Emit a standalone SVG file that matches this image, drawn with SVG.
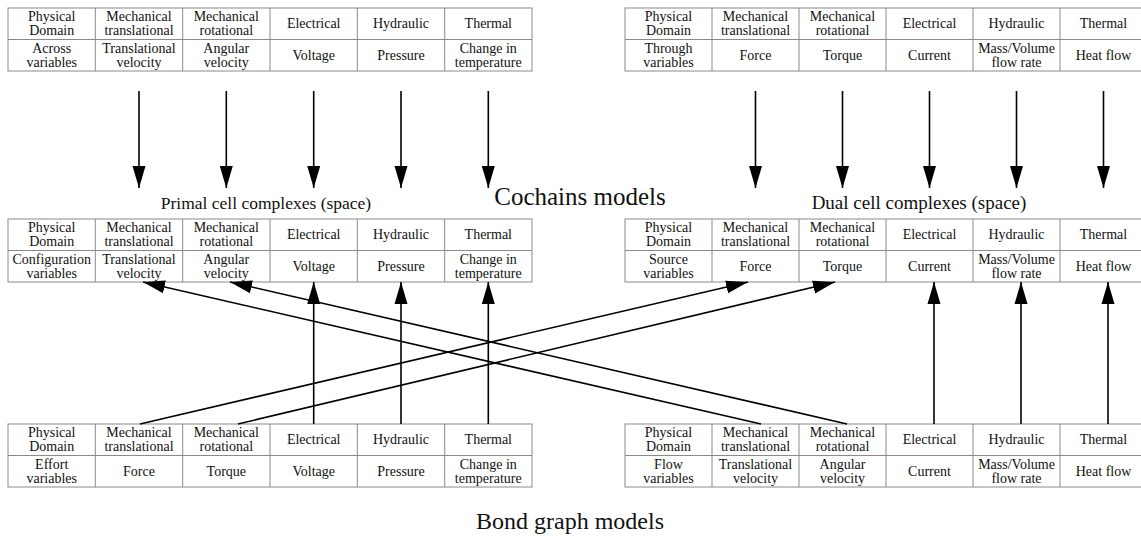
<svg xmlns="http://www.w3.org/2000/svg" width="1141" height="537" viewBox="0 0 1141 537">
  <defs>
    <marker id="head" markerUnits="userSpaceOnUse" markerWidth="22" markerHeight="14" refX="22" refY="7" orient="auto">
      <path d="M0,0.5 L22,7 L0,13.5 Z" fill="#000"/>
    </marker>
    <style>
      .grid { fill: #fff; stroke: #8a8a8a; stroke-width: 1; }
      .cell { font-family: "Liberation Serif", "Times New Roman", serif; font-size: 14px; fill: #111; text-anchor: middle; }
      .caption { font-family: "Liberation Serif", "Times New Roman", serif; font-size: 17.5px; fill: #111; text-anchor: middle; }
      .caption-dual { font-size: 19px; }
      .title { font-family: "Liberation Serif", "Times New Roman", serif; font-size: 25px; fill: #111; text-anchor: middle; }
      .title-bond { font-size: 24px; }
      .arrow { stroke: #000; stroke-width: 1.6; fill: none; marker-end: url(#head); }
    </style>
  </defs>
  <rect width="1141" height="537" fill="#fff"/>

  <!-- Across variables (top left) -->
  <g id="across-table" transform="translate(8,8)">
    <rect class="grid" x="0" y="0" width="524" height="63"/>
    <path class="grid" d="M0,31.5H524 M87.3,0V63 M174.7,0V63 M262,0V63 M349.3,0V63 M436.7,0V63"/>
    <text class="cell"><tspan x="43.7" y="13.2">Physical</tspan><tspan x="43.7" y="27.2">Domain</tspan></text>
    <text class="cell"><tspan x="131" y="13.2">Mechanical</tspan><tspan x="131" y="27.2">translational</tspan></text>
    <text class="cell"><tspan x="218.3" y="13.2">Mechanical</tspan><tspan x="218.3" y="27.2">rotational</tspan></text>
    <text class="cell" x="305.7" y="20.2">Electrical</text>
    <text class="cell" x="393" y="20.2">Hydraulic</text>
    <text class="cell" x="480.3" y="20.2">Thermal</text>
    <text class="cell"><tspan x="43.7" y="44.7">Across</tspan><tspan x="43.7" y="58.7">variables</tspan></text>
    <text class="cell"><tspan x="131" y="44.7">Translational</tspan><tspan x="131" y="58.7">velocity</tspan></text>
    <text class="cell"><tspan x="218.3" y="44.7">Angular</tspan><tspan x="218.3" y="58.7">velocity</tspan></text>
    <text class="cell" x="305.7" y="51.7">Voltage</text>
    <text class="cell" x="393" y="51.7">Pressure</text>
    <text class="cell"><tspan x="480.3" y="44.7">Change in</tspan><tspan x="480.3" y="58.7">temperature</tspan></text>
  </g>

  <!-- Through variables (top right) -->
  <g id="through-table" transform="translate(625,8)">
    <rect class="grid" x="0" y="0" width="522" height="63"/>
    <path class="grid" d="M0,31.5H522 M87,0V63 M174,0V63 M261,0V63 M348,0V63 M435,0V63"/>
    <text class="cell"><tspan x="43.5" y="13.2">Physical</tspan><tspan x="43.5" y="27.2">Domain</tspan></text>
    <text class="cell"><tspan x="130.5" y="13.2">Mechanical</tspan><tspan x="130.5" y="27.2">translational</tspan></text>
    <text class="cell"><tspan x="217.5" y="13.2">Mechanical</tspan><tspan x="217.5" y="27.2">rotational</tspan></text>
    <text class="cell" x="304.5" y="20.2">Electrical</text>
    <text class="cell" x="391.5" y="20.2">Hydraulic</text>
    <text class="cell" x="478.5" y="20.2">Thermal</text>
    <text class="cell"><tspan x="43.5" y="44.7">Through</tspan><tspan x="43.5" y="58.7">variables</tspan></text>
    <text class="cell" x="130.5" y="51.7">Force</text>
    <text class="cell" x="217.5" y="51.7">Torque</text>
    <text class="cell" x="304.5" y="51.7">Current</text>
    <text class="cell"><tspan x="391.5" y="44.7">Mass/Volume</tspan><tspan x="391.5" y="58.7">flow rate</tspan></text>
    <text class="cell" x="478.5" y="51.7">Heat flow</text>
  </g>

  <!-- Configuration variables (primal cells) -->
  <g id="configuration-table" transform="translate(8,219)">
    <rect class="grid" x="0" y="0" width="524" height="63"/>
    <path class="grid" d="M0,31.5H524 M87.3,0V63 M174.7,0V63 M262,0V63 M349.3,0V63 M436.7,0V63"/>
    <text class="cell"><tspan x="43.7" y="13.2">Physical</tspan><tspan x="43.7" y="27.2">Domain</tspan></text>
    <text class="cell"><tspan x="131" y="13.2">Mechanical</tspan><tspan x="131" y="27.2">translational</tspan></text>
    <text class="cell"><tspan x="218.3" y="13.2">Mechanical</tspan><tspan x="218.3" y="27.2">rotational</tspan></text>
    <text class="cell" x="305.7" y="20.2">Electrical</text>
    <text class="cell" x="393" y="20.2">Hydraulic</text>
    <text class="cell" x="480.3" y="20.2">Thermal</text>
    <text class="cell"><tspan x="43.7" y="44.7">Configuration</tspan><tspan x="43.7" y="58.7">variables</tspan></text>
    <text class="cell"><tspan x="131" y="44.7">Translational</tspan><tspan x="131" y="58.7">velocity</tspan></text>
    <text class="cell"><tspan x="218.3" y="44.7">Angular</tspan><tspan x="218.3" y="58.7">velocity</tspan></text>
    <text class="cell" x="305.7" y="51.7">Voltage</text>
    <text class="cell" x="393" y="51.7">Pressure</text>
    <text class="cell"><tspan x="480.3" y="44.7">Change in</tspan><tspan x="480.3" y="58.7">temperature</tspan></text>
  </g>

  <!-- Source variables (dual cells) -->
  <g id="source-table" transform="translate(625,219)">
    <rect class="grid" x="0" y="0" width="522" height="63"/>
    <path class="grid" d="M0,31.5H522 M87,0V63 M174,0V63 M261,0V63 M348,0V63 M435,0V63"/>
    <text class="cell"><tspan x="43.5" y="13.2">Physical</tspan><tspan x="43.5" y="27.2">Domain</tspan></text>
    <text class="cell"><tspan x="130.5" y="13.2">Mechanical</tspan><tspan x="130.5" y="27.2">translational</tspan></text>
    <text class="cell"><tspan x="217.5" y="13.2">Mechanical</tspan><tspan x="217.5" y="27.2">rotational</tspan></text>
    <text class="cell" x="304.5" y="20.2">Electrical</text>
    <text class="cell" x="391.5" y="20.2">Hydraulic</text>
    <text class="cell" x="478.5" y="20.2">Thermal</text>
    <text class="cell"><tspan x="43.5" y="44.7">Source</tspan><tspan x="43.5" y="58.7">variables</tspan></text>
    <text class="cell" x="130.5" y="51.7">Force</text>
    <text class="cell" x="217.5" y="51.7">Torque</text>
    <text class="cell" x="304.5" y="51.7">Current</text>
    <text class="cell"><tspan x="391.5" y="44.7">Mass/Volume</tspan><tspan x="391.5" y="58.7">flow rate</tspan></text>
    <text class="cell" x="478.5" y="51.7">Heat flow</text>
  </g>

  <!-- Effort variables (bond graph) -->
  <g id="effort-table" transform="translate(8,424)">
    <rect class="grid" x="0" y="0" width="524" height="63"/>
    <path class="grid" d="M0,31.5H524 M87.3,0V63 M174.7,0V63 M262,0V63 M349.3,0V63 M436.7,0V63"/>
    <text class="cell"><tspan x="43.7" y="13.2">Physical</tspan><tspan x="43.7" y="27.2">Domain</tspan></text>
    <text class="cell"><tspan x="131" y="13.2">Mechanical</tspan><tspan x="131" y="27.2">translational</tspan></text>
    <text class="cell"><tspan x="218.3" y="13.2">Mechanical</tspan><tspan x="218.3" y="27.2">rotational</tspan></text>
    <text class="cell" x="305.7" y="20.2">Electrical</text>
    <text class="cell" x="393" y="20.2">Hydraulic</text>
    <text class="cell" x="480.3" y="20.2">Thermal</text>
    <text class="cell"><tspan x="43.7" y="44.7">Effort</tspan><tspan x="43.7" y="58.7">variables</tspan></text>
    <text class="cell" x="131" y="51.7">Force</text>
    <text class="cell" x="218.3" y="51.7">Torque</text>
    <text class="cell" x="305.7" y="51.7">Voltage</text>
    <text class="cell" x="393" y="51.7">Pressure</text>
    <text class="cell"><tspan x="480.3" y="44.7">Change in</tspan><tspan x="480.3" y="58.7">temperature</tspan></text>
  </g>

  <!-- Flow variables (bond graph) -->
  <g id="flow-table" transform="translate(625,424)">
    <rect class="grid" x="0" y="0" width="522" height="63"/>
    <path class="grid" d="M0,31.5H522 M87,0V63 M174,0V63 M261,0V63 M348,0V63 M435,0V63"/>
    <text class="cell"><tspan x="43.5" y="13.2">Physical</tspan><tspan x="43.5" y="27.2">Domain</tspan></text>
    <text class="cell"><tspan x="130.5" y="13.2">Mechanical</tspan><tspan x="130.5" y="27.2">translational</tspan></text>
    <text class="cell"><tspan x="217.5" y="13.2">Mechanical</tspan><tspan x="217.5" y="27.2">rotational</tspan></text>
    <text class="cell" x="304.5" y="20.2">Electrical</text>
    <text class="cell" x="391.5" y="20.2">Hydraulic</text>
    <text class="cell" x="478.5" y="20.2">Thermal</text>
    <text class="cell"><tspan x="43.5" y="44.7">Flow</tspan><tspan x="43.5" y="58.7">variables</tspan></text>
    <text class="cell"><tspan x="130.5" y="44.7">Translational</tspan><tspan x="130.5" y="58.7">velocity</tspan></text>
    <text class="cell"><tspan x="217.5" y="44.7">Angular</tspan><tspan x="217.5" y="58.7">velocity</tspan></text>
    <text class="cell" x="304.5" y="51.7">Current</text>
    <text class="cell"><tspan x="391.5" y="44.7">Mass/Volume</tspan><tspan x="391.5" y="58.7">flow rate</tspan></text>
    <text class="cell" x="478.5" y="51.7">Heat flow</text>
  </g>

  <!-- Captions -->
  <g id="captions">
    <text class="caption" x="266" y="209">Primal cell complexes (space)</text>
    <text class="caption caption-dual" x="919" y="209">Dual cell complexes (space)</text>
    <text class="title" x="580" y="205">Cochains models</text>
    <text class="title title-bond" x="570" y="529">Bond graph models</text>
  </g>

  <!-- Connectors -->
  <g id="connectors">
    <!-- across variables down to primal cells -->
    <line class="arrow" x1="139" y1="91" x2="139" y2="188"/>
    <line class="arrow" x1="226.3" y1="91" x2="226.3" y2="188"/>
    <line class="arrow" x1="313.7" y1="91" x2="313.7" y2="188"/>
    <line class="arrow" x1="401" y1="91" x2="401" y2="188"/>
    <line class="arrow" x1="488.3" y1="91" x2="488.3" y2="188"/>
    <!-- through variables down to dual cells -->
    <line class="arrow" x1="755.5" y1="91" x2="755.5" y2="188"/>
    <line class="arrow" x1="842.5" y1="91" x2="842.5" y2="188"/>
    <line class="arrow" x1="929.5" y1="91" x2="929.5" y2="188"/>
    <line class="arrow" x1="1016.5" y1="91" x2="1016.5" y2="188"/>
    <line class="arrow" x1="1103.5" y1="91" x2="1103.5" y2="188"/>
    <!-- effort variables up to configuration variables -->
    <line class="arrow" x1="313.7" y1="424" x2="313.7" y2="282"/>
    <line class="arrow" x1="401" y1="424" x2="401" y2="282"/>
    <line class="arrow" x1="488.3" y1="424" x2="488.3" y2="282"/>
    <!-- flow variables up to source variables -->
    <line class="arrow" x1="934" y1="424" x2="934" y2="282"/>
    <line class="arrow" x1="1021" y1="424" x2="1021" y2="282"/>
    <line class="arrow" x1="1108" y1="424" x2="1108" y2="282"/>
    <!-- mechanical crossings -->
    <line class="arrow" x1="140" y1="424" x2="748" y2="282"/>
    <line class="arrow" x1="238" y1="424" x2="835" y2="282"/>
    <line class="arrow" x1="761" y1="424" x2="143" y2="282"/>
    <line class="arrow" x1="847" y1="424" x2="230" y2="282"/>
  </g>
</svg>
